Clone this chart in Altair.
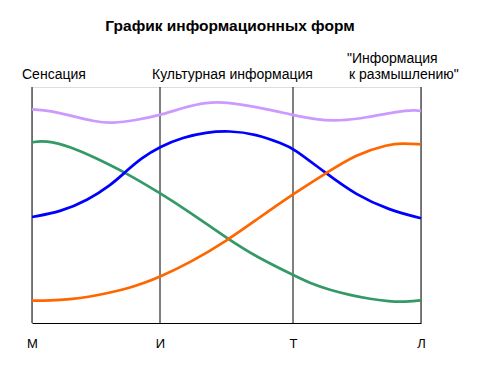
import altair as alt
import pandas as pd

# Category ticks along the horizontal axis (position in plot units)
CATEGORIES = ["М", "И", "Т", "Л"]
CATEGORY_POS = [0, 128, 261, 389]

# Series (x in plot units, y = height above baseline)
PURPLE_X = [0, 19, 39, 63, 81, 103, 128, 151, 174, 194, 224, 261, 284, 307, 334, 364, 384, 389]
PURPLE_Y = [213.7, 212.3, 207.3, 201.3, 199.7, 202.7, 207.7, 215.3, 220.7, 221, 216.3, 208, 203.3, 202, 205.3, 211.3, 213, 212]

GREEN_X = [0, 13, 39, 63, 93, 128, 157, 196, 224, 261, 278, 298, 318, 338, 358, 369, 389]
GREEN_Y = [180.7, 182.7, 176.3, 165.3, 150.7, 130, 111.3, 84, 66.3, 48, 39.7, 33, 28, 24, 21.7, 21, 22.7]

BLUE_X = [0, 29, 56, 79, 93, 109, 128, 151, 174, 197, 224, 251, 261, 294, 324, 357, 389]
BLUE_Y = [106, 111.3, 123, 138, 150.7, 164.7, 176.5, 185.7, 190.7, 192.3, 189, 179, 175, 149.7, 128, 113, 104.7]

ORANGE_X = [0, 18, 38, 58, 78, 98, 113, 128, 157, 196, 224, 261, 294, 324, 357, 370, 389]
ORANGE_Y = [22.3, 22.3, 23.7, 26.3, 30.3, 35.3, 40.3, 46.3, 59.7, 83, 103, 129, 149.7, 168.7, 178.7, 179.7, 178.7]

SERIES_NAMES = ["purple", "green", "blue", "orange"]
SERIES_COLORS = ["#CC99FF", "#339966", "#0000FF", "#FF6600"]

TITLE = "График информационных форм"
ANNOT_TEXT = ["Сенсация", "Культурная информация", "\"Информация", "к размышлению\""]
ANNOT_X = [-10, 120, 315, 317]
ANNOT_Y = [244.5, 244.5, 260, 244.5]

FONT = "Liberation Sans"
W, H = 389, 236

rows = []
for name, xs, ys in zip(SERIES_NAMES,
                        [PURPLE_X, GREEN_X, BLUE_X, ORANGE_X],
                        [PURPLE_Y, GREEN_Y, BLUE_Y, ORANGE_Y]):
    for i, (x, y) in enumerate(zip(xs, ys)):
        rows.append({"series": name, "x": x, "y": y, "i": i})
df = pd.DataFrame(rows)

cat_df = pd.DataFrame({"pos": CATEGORY_POS, "label": CATEGORIES})
annot_df = pd.DataFrame({"x": ANNOT_X, "y": ANNOT_Y, "text": ANNOT_TEXT})

label_expr = " : ".join(
    f"datum.value == {p} ? '{c}'" for p, c in zip(CATEGORY_POS, CATEGORIES)
) + " : ''"

xscale = alt.Scale(domain=[0, W], nice=False, zero=False)
yscale = alt.Scale(domain=[0, H], nice=False, zero=False)

lines = alt.Chart(df).mark_line(strokeWidth=2.7, interpolate="basis").encode(
    x=alt.X("x:Q", scale=xscale,
            axis=alt.Axis(values=CATEGORY_POS, labelExpr=label_expr, title=None,
                          grid=False, ticks=False, domainColor="black",
                          domainWidth=1, labelFont=FONT, labelFontSize=13,
                          labelColor="black", labelPadding=14,
                          labelFlush=False)),
    y=alt.Y("y:Q", scale=yscale, axis=None),
    color=alt.Color("series:N", scale=alt.Scale(domain=SERIES_NAMES, range=SERIES_COLORS),
                    legend=None),
    order="i:Q",
    detail="series:N",
)

rules = alt.Chart(cat_df).mark_rule(color="black", strokeWidth=1).encode(
    x=alt.X("pos:Q", scale=xscale),
    y=alt.value(0),
    y2=alt.value(H),
)

annots = alt.Chart(annot_df).mark_text(
    align="left", baseline="alphabetic", font=FONT, fontSize=14, color="black"
).encode(
    x=alt.X("x:Q", scale=xscale),
    y=alt.Y("y:Q", scale=yscale),
    text="text:N",
)

title_df = pd.DataFrame({"x": [198], "text": [TITLE]})
title = alt.Chart(title_df).mark_text(
    align="center", baseline="alphabetic", font=FONT, fontSize=15.5,
    fontWeight="bold", color="black"
).encode(
    x=alt.X("x:Q", scale=xscale),
    y=alt.value(-56.5),
    text="text:N",
)

chart = alt.layer(rules, lines, annots, title).properties(
    width=W, height=H,
    autosize=alt.AutoSizeParams(type="none"),
    padding={"left": 24, "top": 79, "right": 53, "bottom": 38},
).configure_view(stroke=None).configure(background="white")

chart.save("out.html", embed_options={"renderer": "svg", "actions": False})
